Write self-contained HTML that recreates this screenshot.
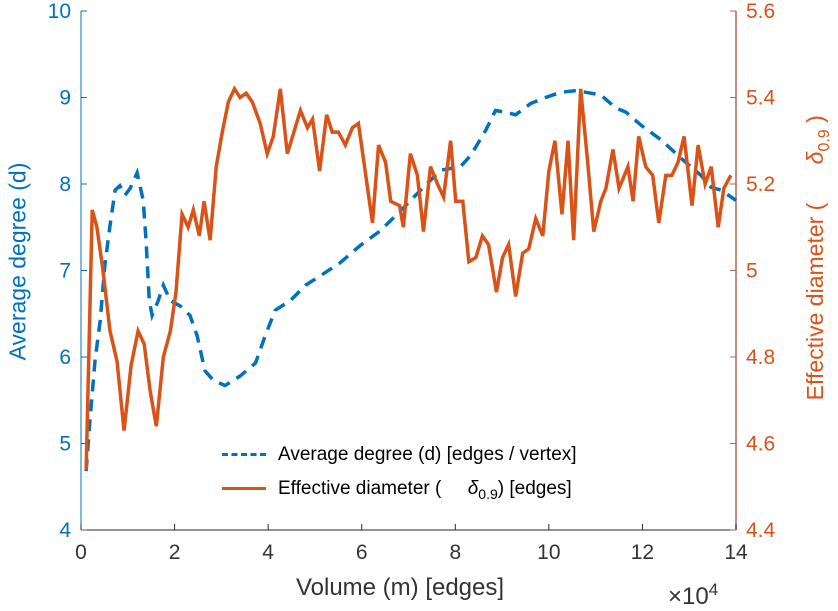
<!DOCTYPE html>
<html><head><meta charset="utf-8"><style>
body{margin:0;background:#fff;width:838px;height:600px;overflow:hidden;font-family:"Liberation Sans",sans-serif}
svg text{font-family:"Liberation Sans",sans-serif}
</style></head><body>
<svg id="chart" width="838" height="600"></svg>
<script>
const degX=[0.11,0.19,0.30,0.41,0.51,0.62,0.73,0.83,0.94,1.05,1.20,1.33,1.39,1.46,1.52,1.65,1.76,1.91,2.12,2.33,2.48,2.65,2.83,3.08,3.40,3.73,3.94,4.15,4.47,4.80,5.12,5.54,5.97,6.40,6.83,7.26,7.69,8.11,8.33,8.65,8.86,9.08,9.29,9.61,9.93,10.25,10.58,10.90,11.11,11.43,11.65,11.97,12.40,12.82,13.25,13.47,13.68,14.0];
const degY=[4.68,5.26,5.96,6.42,7.06,7.52,7.93,7.98,7.87,7.95,8.13,7.81,7.35,6.65,6.48,6.65,6.83,6.65,6.59,6.48,6.25,5.84,5.73,5.67,5.78,5.93,6.25,6.54,6.65,6.83,6.94,7.09,7.29,7.46,7.69,7.93,8.16,8.20,8.33,8.62,8.85,8.83,8.80,8.93,9.00,9.06,9.08,9.05,9.03,8.88,8.83,8.68,8.51,8.30,8.10,7.96,7.93,7.81];
const diaX=[0.11,0.24,0.34,0.47,0.62,0.77,0.92,1.07,1.22,1.35,1.48,1.61,1.76,1.91,2.03,2.16,2.29,2.40,2.53,2.63,2.76,2.89,3.02,3.15,3.28,3.40,3.53,3.66,3.83,3.98,4.11,4.26,4.41,4.69,4.84,4.95,5.10,5.25,5.37,5.50,5.65,5.80,5.93,6.23,6.36,6.51,6.62,6.81,6.89,7.04,7.19,7.32,7.47,7.62,7.75,7.90,8.01,8.16,8.29,8.44,8.58,8.71,8.88,9.01,9.14,9.29,9.44,9.57,9.72,9.87,10.00,10.13,10.28,10.41,10.53,10.68,10.83,10.96,11.11,11.22,11.37,11.50,11.69,11.80,11.92,12.07,12.22,12.35,12.50,12.63,12.76,12.89,13.06,13.19,13.34,13.47,13.62,13.74,13.89];
const diaY=[4.54,5.14,5.10,5.00,4.86,4.79,4.63,4.78,4.86,4.83,4.72,4.64,4.80,4.86,4.95,5.13,5.10,5.14,5.08,5.16,5.07,5.24,5.32,5.39,5.42,5.40,5.41,5.39,5.34,5.27,5.31,5.42,5.27,5.37,5.33,5.35,5.23,5.36,5.32,5.32,5.29,5.33,5.34,5.11,5.29,5.25,5.16,5.15,5.10,5.27,5.22,5.09,5.24,5.20,5.17,5.30,5.16,5.16,5.02,5.03,5.08,5.06,4.95,5.03,5.06,4.94,5.04,5.05,5.12,5.08,5.23,5.30,5.13,5.30,5.07,5.42,5.25,5.09,5.16,5.19,5.28,5.19,5.24,5.16,5.31,5.24,5.22,5.11,5.22,5.22,5.25,5.31,5.15,5.29,5.20,5.24,5.10,5.19,5.22];
const xTicks=[0,2,4,6,8,10,12,14];
const yLTicks=[4,5,6,7,8,9,10];
const yRTicks=["4.4","4.6","4.8","5","5.2","5.4","5.6"];

const L=81,R=736,T=11,B=530;
const sx=v=>L+(v/14)*(R-L);
const syL=v=>B-(v-4)/6*(B-T);
const syR=v=>B-(v-4.4)/1.2*(B-T);
const svg=document.getElementById('chart');
const NS='http://www.w3.org/2000/svg';
function mk(tag,attrs,parent){const e=document.createElementNS(NS,tag);for(const k in attrs)e.setAttribute(k,attrs[k]);(parent||svg).appendChild(e);return e;}

let e;
e=mk('line',{x1:L,y1:B,x2:R,y2:B,stroke:'#262626','stroke-width':1});


e=mk('line',{x1:L,y1:T,x2:L,y2:B,stroke:'#0072BD','stroke-width':1});


e=mk('line',{x1:R,y1:T,x2:R,y2:B,stroke:'#A8685A','stroke-width':1.5});



xTicks.forEach(v=>{
  const x=sx(v);
  e=mk('line',{x1:x,y1:B,x2:x,y2:B-6,stroke:'#262626'});
  
  
  e=mk('text',{x:x,y:559,'text-anchor':'middle','font-size':21,fill:'#333'});
  e.textContent=v;
  
  
});
yLTicks.forEach(v=>{
  const y=syL(v);
  e=mk('line',{x1:L,y1:y,x2:L+6,y2:y,stroke:'#0072BD'});
  
  
  e=mk('text',{x:71,y:y+7,'text-anchor':'end','font-size':21,fill:'#0072BD'});
  e.textContent=v;
  
  
});
yRTicks.forEach(s=>{
  const y=syR(parseFloat(s));
  e=mk('line',{x1:R,y1:y,x2:R-6,y2:y,stroke:'#A8685A'});
  
  
  e=mk('text',{x:746,y:y+7,'text-anchor':'start','font-size':21,fill:'#D95319'});
  e.textContent=s;
  
  
});

e=mk('polyline',{points:degX.map((x,i)=>sx(x)+','+syL(degY[i])).join(' '),fill:'none',stroke:'#0072BD','stroke-width':3.5,'stroke-dasharray':'12,8'});


e=mk('polyline',{points:diaX.map((x,i)=>sx(x)+','+syR(diaY[i])).join(' '),fill:'none',stroke:'#D95319','stroke-width':3.5,'stroke-linejoin':'miter'});


</script>
<div style="position:absolute;left:0;top:0;width:838px;height:600px;pointer-events:none">
  <div style="position:absolute;left:-132px;top:248px;width:300px;text-align:center;font-size:23px;color:#0072BD;transform:rotate(-90deg)">Average degree (d)</div>
  <div style="position:absolute;left:658px;top:242px;width:320px;text-align:center;font-size:23px;color:#D95319;transform:rotate(-90deg);white-space:nowrap">Effective diameter (&nbsp;&nbsp;&nbsp;&nbsp;&nbsp; <i>δ</i><sub style="font-size:16px">0.9</sub> )</div>
  <div style="position:absolute;left:240px;top:574px;width:320px;text-align:center;font-size:24px;color:#333">Volume (m) [edges]</div>
  <div style="position:absolute;left:668px;top:580px;font-size:24px;color:#333">×10<sup style="font-size:17px">4</sup></div>
  <div style="position:absolute;left:222px;top:440px;width:450px;height:66px;font-size:19px;color:#000">
    <div style="position:absolute;left:0;top:4px;white-space:nowrap"><span style="display:inline-block;width:44px;border-top:3.5px dashed #0072BD;vertical-align:middle;margin-right:12px"></span>Average degree (d) [edges / vertex]</div>
    <div style="position:absolute;left:0;top:38px;white-space:nowrap"><span style="display:inline-block;width:44px;border-top:3.5px solid #D95319;vertical-align:middle;margin-right:12px"></span>Effective diameter (&nbsp;&nbsp;&nbsp;&nbsp; <i>δ</i><sub style="font-size:14px">0.9</sub>) [edges]</div>
  </div>
</div>
</body></html>
